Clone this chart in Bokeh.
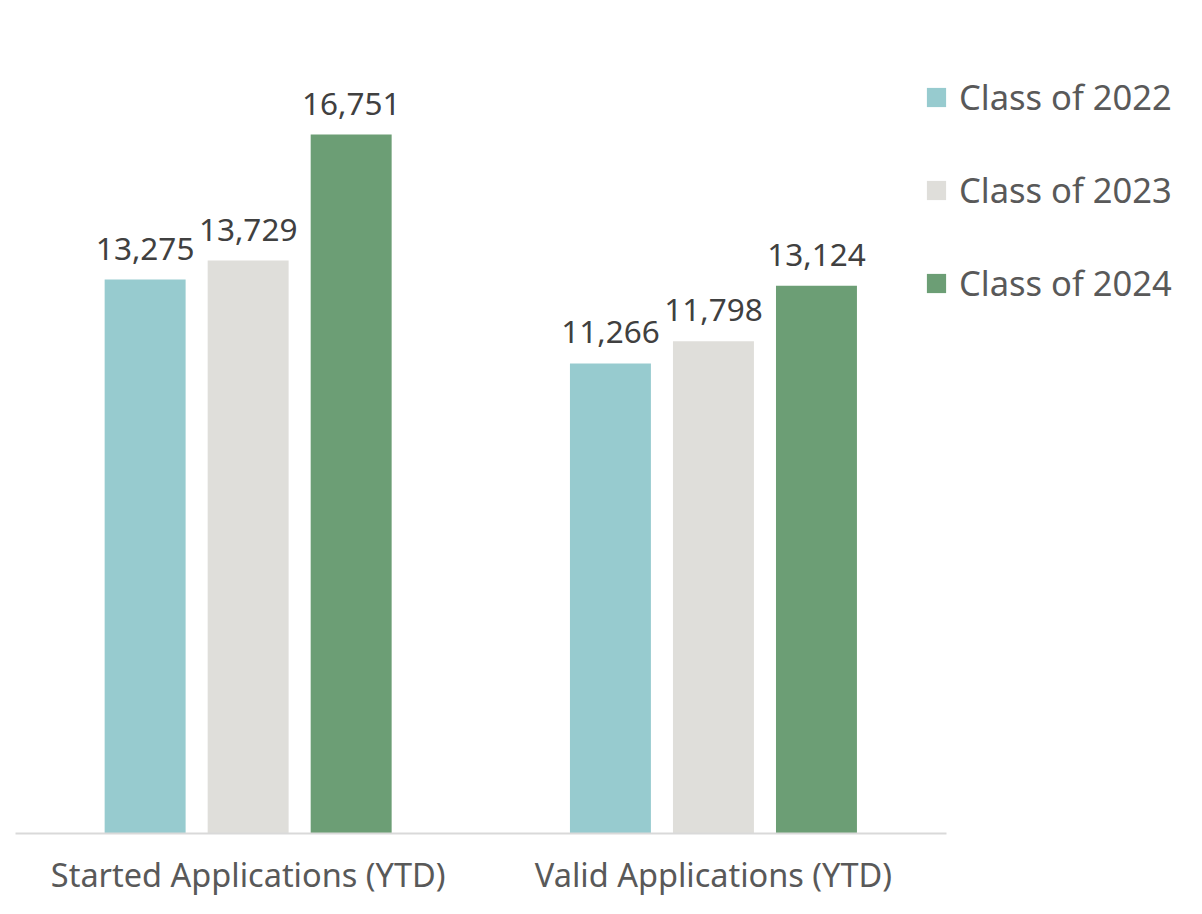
from bokeh.plotting import figure
from bokeh.models import ColumnDataSource, Range1d, Legend, LegendItem, FixedTicker
from bokeh.transform import dodge
from bokeh.core.properties import value
from bokeh.embed import file_html
from bokeh.resources import INLINE

categories = ["Started Applications (YTD)", "Valid Applications (YTD)"]
series = ["Class of 2022", "Class of 2023", "Class of 2024"]
class_2022 = [13275, 11266]
class_2023 = [13729, 11798]
class_2024 = [16751, 13124]
colors = ["#97CBCF", "#DFDEDA", "#6C9E75"]

x_centers = [i + 0.5 for i in range(len(categories))]
src = ColumnDataSource(dict(
    x=x_centers,
    y2022=class_2022, y2023=class_2023, y2024=class_2024,
    l2022=[f"{v:,}" for v in class_2022],
    l2023=[f"{v:,}" for v in class_2023],
    l2024=[f"{v:,}" for v in class_2024],
))

FONT = "Noto Sans"
W, H = 1186, 898
base_px, top_px = 833, 134
px_x = 465.3                          # pixels per category
px_y = (base_px - top_px) / 16751     # pixels per application
x0_px = 15
p = figure(width=W, height=H, output_backend="svg", toolbar_location=None,
           x_range=Range1d(-x0_px / px_x, (W - x0_px) / px_x),
           y_range=Range1d(-(H - base_px) / px_y, base_px / px_y),
           min_border_left=0, min_border_right=0, min_border_top=0, min_border_bottom=0)
p.outline_line_color = None
p.xgrid.grid_line_color = None
p.ygrid.grid_line_color = None
p.yaxis.visible = False
p.background_fill_color = "white"
p.border_fill_color = "white"

offsets = [-0.2214, 0.0, 0.2214]
keys = ["2022", "2023", "2024"]
renderers = []
for k, off, c in zip(keys, offsets, colors):
    r = p.vbar(x=dodge("x", off), top="y" + k, width=0.174, bottom=0, source=src,
               fill_color=c, line_color=None)
    renderers.append(r)
    p.text(x=dodge("x", off), y="y" + k, text="l" + k, source=src,
           text_align="center", text_baseline="alphabetic", y_offset=-31,
           text_font=value(FONT), text_font_size="31.5px", text_color="#404040")

ax = p.xaxis[0]
ax.fixed_location = 0
ax.bounds = (0, len(categories))
ax.ticker = FixedTicker(ticks=x_centers)
ax.major_label_overrides = {x: c for x, c in zip(x_centers, categories)}
ax.major_tick_line_color = None
ax.minor_tick_line_color = None
ax.major_tick_out = 0
ax.major_tick_in = 0
ax.minor_tick_out = 0
ax.axis_line_color = "#D9D9D9"
ax.axis_line_width = 2
ax.major_label_text_font = FONT
ax.major_label_text_font_size = "32.5px"
ax.major_label_text_color = "#595959"
ax.major_label_standoff = 18

legend = Legend(items=[LegendItem(label=s, renderers=[r]) for s, r in zip(series, renderers)],
                location=(924, 592), orientation="vertical",
                glyph_width=24, glyph_height=24, label_standoff=11, spacing=46,
                padding=0, margin=0, border_line_color=None, background_fill_alpha=0,
                label_text_font=FONT, label_text_font_size="34.5px", label_text_color="#595959")
p.add_layout(legend, "center")

open("out.html", "w").write(file_html(p, INLINE))
